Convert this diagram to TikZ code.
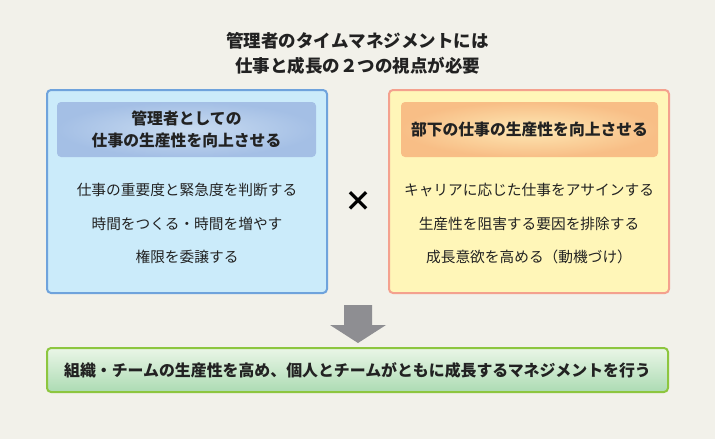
\documentclass[tikz,border=0pt]{standalone}
\usepackage{fontspec}
\setmainfont{Noto Sans CJK JP}
\definecolor{bg}{HTML}{F2F1EA}
\definecolor{txt}{HTML}{222222}
\definecolor{lfill}{HTML}{CBEBFA}
\definecolor{lborder}{HTML}{6FA3DC}
\definecolor{rfill}{HTML}{FFF6B8}
\definecolor{rborder}{HTML}{F4A18E}
\definecolor{gborder}{HTML}{8DC63F}
\definecolor{arrowgray}{HTML}{8E8E92}
\definecolor{lhin}{HTML}{C9DCF1}
\definecolor{lhout}{HTML}{A4BFE5}
\definecolor{rhin}{HTML}{FDE8B4}
\definecolor{rhout}{HTML}{F8BE86}
\definecolor{gtop}{HTML}{EAF6E7}
\definecolor{gbot}{HTML}{ACDBB3}
\tikzset{
  panel/.style={draw, line width=2pt, rounded corners=4pt, minimum width=280pt, minimum height=203pt, inner sep=0pt},
  header/.style={rounded corners=4pt, minimum height=55pt, inner sep=0pt, align=center, text=txt, font=\bfseries\fontsize{15.8}{22}\selectfont},
  item/.style={text=txt, font=\fontsize{14.7}{17}\selectfont, inner sep=0pt},
}
\begin{document}
\begin{tikzpicture}[x=1pt,y=-1pt]
\fill[bg] (0,0) rectangle (715,439);
\useasboundingbox (0,0) rectangle (715,439);
% title
\node[text=txt, font=\bfseries\fontsize{17.5}{25}\selectfont, align=center] (title) at (357.5,53.5)
  {管理者のタイムマネジメントには\\仕事と成長の２つの視点が必要};
% panels
\node[panel, draw=lborder, fill=lfill] (left) at (187,191.5) {};
\node[panel, draw=rborder, fill=rfill] (right) at (529,191.5) {};
% headers
\node[header, minimum width=259pt, inner color=lhin, outer color=lhout] (lh) at (186.5,129.5)
  {管理者としての\\仕事の生産性を向上させる};
\node[header, minimum width=257pt, inner color=rhin, outer color=rhout] (rh) at (529.5,129.5)
  {部下の仕事の生産性を向上させる};
% items
\node[item] (l1) at (187,190) {仕事の重要度と緊急度を判断する};
\node[item] (l2) at (187,223.5) {時間をつくる・時間を増やす};
\node[item] (l3) at (187,257) {権限を委譲する};
\node[item] (r1) at (529,190) {キャリアに応じた仕事をアサインする};
\node[item] (r2) at (529,223.5) {生産性を阻害する要因を排除する};
\node[item] (r3) at (529,257) {成長意欲を高める（動機づけ）};
% times
\node[text=black, font=\bfseries\fontsize{28}{28}\selectfont, inner sep=0pt] (times) at (358,201) {×};
% bottom
\node[draw=gborder, line width=2pt, rounded corners=4pt, minimum width=621pt, minimum height=44pt,
  top color=gtop, bottom color=gbot, text=txt, font=\bfseries\fontsize{15.9}{18}\selectfont, inner sep=0pt] (bottom) at (357.5,370)
  {組織・チームの生産性を高め、個人とチームがともに成長するマネジメントを行う};
% arrow
\fill[arrowgray] (344,305) -- (372,305) -- (372,325) -- (386,325) -- (358,343) -- (330,325) -- (344,325) -- cycle;
\end{tikzpicture}
\end{document}
